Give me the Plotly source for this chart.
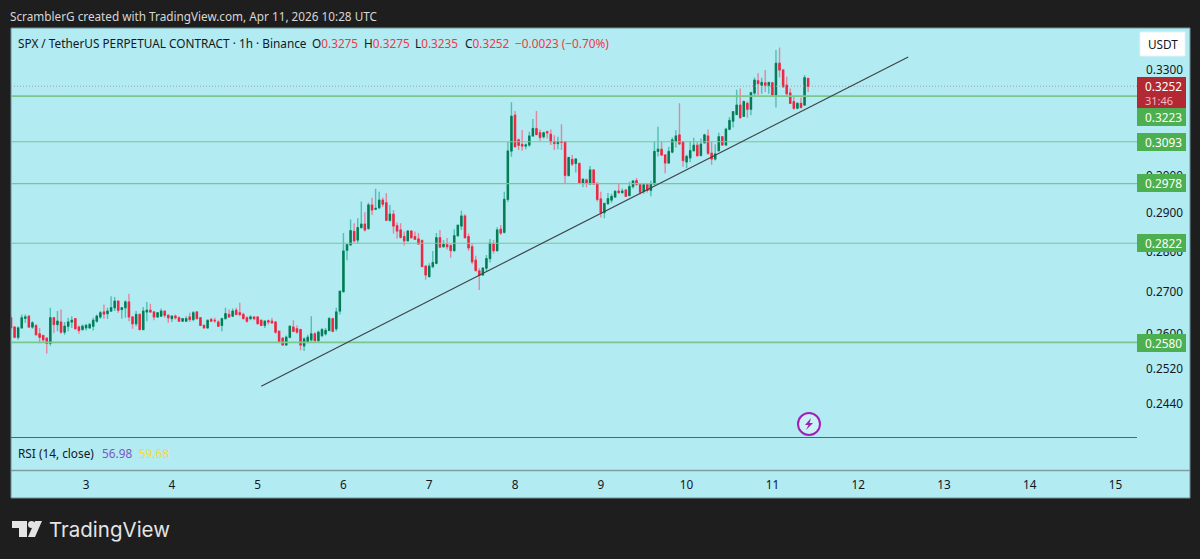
import pandas as pd
import plotly.graph_objects as go

W, H = 1200, 559

# hourly candles, last one is Apr 11 10:00
opens = [
    0.2638, 0.2616, 0.2592, 0.2614, 0.2637, 0.2642, 0.2616, 0.2620, 0.2600, 0.2596,
    0.2590, 0.2578, 0.2638, 0.2622, 0.2628, 0.2604, 0.2618, 0.2628, 0.2636, 0.2616,
    0.2610, 0.2614, 0.2614, 0.2618, 0.2630, 0.2640, 0.2652, 0.2648, 0.2654, 0.2662,
    0.2678, 0.2658, 0.2662, 0.2676, 0.2640, 0.2624, 0.2646, 0.2610, 0.2652, 0.2656,
    0.2652, 0.2640, 0.2642, 0.2654, 0.2644, 0.2636, 0.2642, 0.2638, 0.2630, 0.2630,
    0.2640, 0.2634, 0.2652, 0.2638, 0.2620, 0.2614, 0.2634, 0.2632, 0.2628, 0.2620,
    0.2636, 0.2646, 0.2642, 0.2656, 0.2650, 0.2646, 0.2638, 0.2636, 0.2640, 0.2640,
    0.2632, 0.2620, 0.2631, 0.2630, 0.2628, 0.2606, 0.2590, 0.2574, 0.2592, 0.2616,
    0.2612, 0.2610, 0.2572, 0.2582, 0.2586, 0.2600, 0.2584, 0.2596, 0.2600, 0.2608,
    0.2636, 0.2612, 0.2654, 0.2701, 0.2804, 0.2818, 0.2852, 0.2830, 0.2862, 0.2871,
    0.2860, 0.2921, 0.2910, 0.2914, 0.2934, 0.2927, 0.2881, 0.2897, 0.2867, 0.2856,
    0.2839, 0.2828, 0.2853, 0.2839, 0.2833, 0.2829, 0.2764, 0.2738, 0.2763, 0.2771,
    0.2836, 0.2813, 0.2818, 0.2816, 0.2803, 0.2841, 0.2866, 0.2892, 0.2839, 0.2813,
    0.2779, 0.2752, 0.2742, 0.2759, 0.2783, 0.2820, 0.2803, 0.2858, 0.2850, 0.2936,
    0.3067, 0.3168, 0.3098, 0.3085, 0.3081, 0.3084, 0.3109, 0.3130, 0.3118, 0.3107,
    0.3121, 0.3114, 0.3093, 0.3088, 0.3093, 0.3093, 0.3000, 0.3044, 0.3033, 0.3033,
    0.2979, 0.2988, 0.2977, 0.3015, 0.2979, 0.2937, 0.2901, 0.2925, 0.2934, 0.2942,
    0.2958, 0.2954, 0.2961, 0.2946, 0.2970, 0.2986, 0.2975, 0.2957, 0.2975, 0.2960,
    0.2977, 0.3066, 0.3072, 0.3056, 0.3034, 0.3064, 0.3095, 0.3112, 0.3093, 0.3037,
    0.3048, 0.3068, 0.3083, 0.3055, 0.3090, 0.3109, 0.3061, 0.3045, 0.3068, 0.3107,
    0.3084, 0.3128, 0.3151, 0.3170, 0.3197, 0.3165, 0.3202, 0.3185, 0.3232, 0.3268,
    0.3255, 0.3262, 0.3255, 0.3262, 0.3226, 0.3320, 0.3300, 0.3255, 0.3232, 0.3207,
    0.3188, 0.3202, 0.3197, 0.3275,
]
highs = [
    0.2646, 0.2618, 0.2618, 0.2646, 0.2646, 0.2644, 0.2630, 0.2622, 0.2614, 0.2598,
    0.2592, 0.2662, 0.2640, 0.2654, 0.2658, 0.2628, 0.2638, 0.2642, 0.2637, 0.2620,
    0.2622, 0.2624, 0.2626, 0.2638, 0.2646, 0.2654, 0.2670, 0.2662, 0.2690, 0.2688,
    0.2680, 0.2664, 0.2680, 0.2696, 0.2642, 0.2654, 0.2648, 0.2664, 0.2676, 0.2672,
    0.2654, 0.2652, 0.2660, 0.2656, 0.2646, 0.2644, 0.2646, 0.2642, 0.2637, 0.2642,
    0.2650, 0.2654, 0.2654, 0.2640, 0.2622, 0.2634, 0.2638, 0.2638, 0.2632, 0.2638,
    0.2662, 0.2658, 0.2660, 0.2662, 0.2674, 0.2650, 0.2642, 0.2644, 0.2642, 0.2642,
    0.2634, 0.2632, 0.2634, 0.2638, 0.2629, 0.2608, 0.2592, 0.2596, 0.2620, 0.2632,
    0.2620, 0.2612, 0.2592, 0.2598, 0.2642, 0.2604, 0.2608, 0.2614, 0.2614, 0.2640,
    0.2638, 0.2662, 0.2702, 0.2848, 0.2820, 0.2883, 0.2873, 0.2886, 0.2930, 0.2902,
    0.2927, 0.2940, 0.2964, 0.2956, 0.2941, 0.2952, 0.2921, 0.2908, 0.2875, 0.2873,
    0.2852, 0.2856, 0.2856, 0.2852, 0.2848, 0.2830, 0.2767, 0.2771, 0.2802, 0.2848,
    0.2856, 0.2830, 0.2835, 0.2819, 0.2858, 0.2869, 0.2906, 0.2897, 0.2847, 0.2822,
    0.2790, 0.2759, 0.2762, 0.2792, 0.2833, 0.2830, 0.2863, 0.2869, 0.2956, 0.3093,
    0.3205, 0.3180, 0.3102, 0.3126, 0.3088, 0.3121, 0.3157, 0.3180, 0.3127, 0.3121,
    0.3124, 0.3127, 0.3111, 0.3107, 0.3142, 0.3095, 0.3051, 0.3056, 0.3047, 0.3035,
    0.2992, 0.2992, 0.3026, 0.3017, 0.2981, 0.2956, 0.2927, 0.2953, 0.2951, 0.2961,
    0.2980, 0.2965, 0.2963, 0.2983, 0.2988, 0.2993, 0.2976, 0.2979, 0.2979, 0.2986,
    0.3093, 0.3135, 0.3093, 0.3059, 0.3079, 0.3105, 0.3125, 0.3202, 0.3095, 0.3057,
    0.3095, 0.3104, 0.3093, 0.3102, 0.3115, 0.3127, 0.3093, 0.3086, 0.3118, 0.3109,
    0.3132, 0.3163, 0.3180, 0.3242, 0.3245, 0.3210, 0.3207, 0.3236, 0.3278, 0.3290,
    0.3277, 0.3300, 0.3265, 0.3265, 0.3360, 0.3368, 0.3302, 0.3280, 0.3245, 0.3223,
    0.3205, 0.3219, 0.3285, 0.3275,
]
lows = [
    0.2606, 0.2590, 0.2586, 0.2612, 0.2626, 0.2614, 0.2612, 0.2596, 0.2578, 0.2582,
    0.2554, 0.2572, 0.2602, 0.2606, 0.2600, 0.2598, 0.2606, 0.2614, 0.2610, 0.2600,
    0.2608, 0.2608, 0.2612, 0.2608, 0.2626, 0.2636, 0.2636, 0.2636, 0.2652, 0.2654,
    0.2650, 0.2636, 0.2638, 0.2630, 0.2612, 0.2618, 0.2610, 0.2610, 0.2630, 0.2650,
    0.2632, 0.2638, 0.2640, 0.2638, 0.2626, 0.2628, 0.2634, 0.2628, 0.2628, 0.2628,
    0.2628, 0.2630, 0.2634, 0.2620, 0.2612, 0.2612, 0.2628, 0.2626, 0.2616, 0.2606,
    0.2634, 0.2638, 0.2640, 0.2644, 0.2642, 0.2634, 0.2626, 0.2632, 0.2632, 0.2622,
    0.2618, 0.2614, 0.2622, 0.2624, 0.2600, 0.2578, 0.2572, 0.2572, 0.2590, 0.2604,
    0.2600, 0.2562, 0.2560, 0.2578, 0.2582, 0.2582, 0.2582, 0.2592, 0.2596, 0.2606,
    0.2604, 0.2606, 0.2646, 0.2699, 0.2779, 0.2815, 0.2824, 0.2822, 0.2860, 0.2852,
    0.2856, 0.2895, 0.2910, 0.2910, 0.2916, 0.2880, 0.2877, 0.2847, 0.2834, 0.2834,
    0.2816, 0.2826, 0.2834, 0.2830, 0.2818, 0.2761, 0.2730, 0.2736, 0.2759, 0.2769,
    0.2809, 0.2812, 0.2806, 0.2785, 0.2800, 0.2841, 0.2856, 0.2834, 0.2803, 0.2769,
    0.2751, 0.2705, 0.2740, 0.2751, 0.2773, 0.2796, 0.2800, 0.2843, 0.2847, 0.2929,
    0.3051, 0.3077, 0.3070, 0.3068, 0.3072, 0.3079, 0.3107, 0.3111, 0.3096, 0.3102,
    0.3102, 0.3084, 0.3070, 0.3072, 0.3070, 0.2979, 0.2997, 0.3026, 0.3008, 0.2977,
    0.2968, 0.2968, 0.2975, 0.2975, 0.2930, 0.2888, 0.2886, 0.2921, 0.2927, 0.2940,
    0.2951, 0.2951, 0.2942, 0.2944, 0.2965, 0.2972, 0.2949, 0.2951, 0.2954, 0.2944,
    0.2977, 0.3052, 0.3053, 0.3006, 0.3032, 0.3061, 0.3077, 0.3084, 0.3024, 0.3020,
    0.3036, 0.3066, 0.3052, 0.3052, 0.3088, 0.3057, 0.3029, 0.3041, 0.3066, 0.3081,
    0.3081, 0.3125, 0.3133, 0.3168, 0.3158, 0.3163, 0.3161, 0.3168, 0.3223, 0.3226,
    0.3230, 0.3235, 0.3230, 0.3224, 0.3190, 0.3278, 0.3248, 0.3221, 0.3200, 0.3183,
    0.3185, 0.3188, 0.3195, 0.3235,
]
closes = [
    0.2614, 0.2592, 0.2614, 0.2638, 0.2640, 0.2616, 0.2626, 0.2598, 0.2592, 0.2586,
    0.2578, 0.2638, 0.2622, 0.2630, 0.2604, 0.2618, 0.2628, 0.2632, 0.2612, 0.2608,
    0.2618, 0.2620, 0.2622, 0.2632, 0.2642, 0.2650, 0.2647, 0.2654, 0.2662, 0.2678,
    0.2656, 0.2662, 0.2676, 0.2640, 0.2624, 0.2646, 0.2610, 0.2654, 0.2656, 0.2652,
    0.2640, 0.2650, 0.2654, 0.2644, 0.2638, 0.2642, 0.2638, 0.2630, 0.2636, 0.2636,
    0.2634, 0.2650, 0.2636, 0.2620, 0.2614, 0.2632, 0.2630, 0.2631, 0.2618, 0.2636,
    0.2648, 0.2640, 0.2654, 0.2646, 0.2646, 0.2636, 0.2630, 0.2640, 0.2636, 0.2624,
    0.2620, 0.2630, 0.2628, 0.2626, 0.2604, 0.2582, 0.2574, 0.2592, 0.2618, 0.2606,
    0.2604, 0.2574, 0.2588, 0.2592, 0.2600, 0.2584, 0.2604, 0.2610, 0.2608, 0.2636,
    0.2606, 0.2652, 0.2702, 0.2802, 0.2818, 0.2854, 0.2828, 0.2862, 0.2871, 0.2856,
    0.2921, 0.2908, 0.2912, 0.2934, 0.2923, 0.2881, 0.2897, 0.2866, 0.2853, 0.2837,
    0.2828, 0.2853, 0.2836, 0.2832, 0.2820, 0.2763, 0.2742, 0.2764, 0.2773, 0.2836,
    0.2812, 0.2819, 0.2813, 0.2803, 0.2841, 0.2868, 0.2892, 0.2836, 0.2810, 0.2775,
    0.2753, 0.2741, 0.2759, 0.2783, 0.2822, 0.2803, 0.2856, 0.2848, 0.2936, 0.3067,
    0.3165, 0.3079, 0.3083, 0.3081, 0.3084, 0.3109, 0.3130, 0.3113, 0.3105, 0.3118,
    0.3118, 0.3093, 0.3088, 0.3093, 0.3091, 0.3000, 0.3049, 0.3031, 0.3045, 0.2979,
    0.2990, 0.2979, 0.3015, 0.2977, 0.2936, 0.2901, 0.2925, 0.2938, 0.2944, 0.2957,
    0.2954, 0.2958, 0.2944, 0.2970, 0.2985, 0.2976, 0.2955, 0.2975, 0.2960, 0.2977,
    0.3066, 0.3072, 0.3056, 0.3034, 0.3066, 0.3098, 0.3109, 0.3087, 0.3041, 0.3052,
    0.3068, 0.3083, 0.3054, 0.3086, 0.3112, 0.3061, 0.3045, 0.3059, 0.3107, 0.3084,
    0.3128, 0.3153, 0.3178, 0.3197, 0.3161, 0.3207, 0.3185, 0.3233, 0.3270, 0.3260,
    0.3263, 0.3255, 0.3263, 0.3226, 0.3320, 0.3300, 0.3250, 0.3230, 0.3202, 0.3188,
    0.3202, 0.3190, 0.3277, 0.3252,
]

levels = [0.3223, 0.3093, 0.2978, 0.2822, 0.2580]
last_price = 0.3252
trend_x = ["2026-04-05 01:00", "2026-04-12 14:00"]
trend_y = [0.2480, 0.3339]
price_ticks = [0.33, 0.30, 0.29, 0.28, 0.27, 0.26, 0.252, 0.244]
day_ticks = [f"2026-04-{d:02d}" for d in range(3, 16)]
day_labels = [str(d) for d in range(3, 16)]

x_start = "2026-04-02 03:00"
x_end = "2026-04-15 06:00"
times = pd.date_range(end="2026-04-11 10:00", periods=len(opens), freq="h")

BG = "#1e1e1e"
PANEL = "#b2ebf2"
FONT = "Noto Sans"
TXT = 11.8


def xp(px):
    return px / W


def yp(py):
    return 1 - py / H


def poly(points, fill, line=None):
    path = "M" + " L".join(f"{xp(a):.5f},{yp(b):.5f}" for a, b in points) + " Z"
    return dict(type="path", xref="paper", yref="paper", path=path, fillcolor=fill,
                line=dict(width=0 if line is None else 1, color=line or fill))


def rect(x0, y0, x1, y1, fill, line=None, layer="below"):
    return dict(type="rect", xref="paper", yref="paper", x0=xp(x0), x1=xp(x1), y0=yp(y0), y1=yp(y1),
                fillcolor=fill, layer=layer, line=dict(width=0 if line is None else 1, color=line or fill))


def label(text, px, py, size=TXT, color="#131722", anchor="left", **kw):
    return dict(text=text, xref="paper", yref="paper", x=xp(px), y=yp(py), xanchor=anchor, yanchor="middle",
                showarrow=False, font=dict(size=size, color=color, family=kw.pop("family", FONT)), **kw)


fig = go.Figure()

for i, lv in enumerate(levels):
    # top and bottom levels are drawn heavier on the original
    lw = 1.7 if i in (0, len(levels) - 1) else 1.1
    fig.add_trace(go.Scatter(x=[x_start, x_end], y=[lv, lv], mode="lines", hoverinfo="skip",
                             line=dict(color="#7cc68e", width=lw)))
fig.add_trace(go.Scatter(x=[x_start, x_end], y=[last_price, last_price], mode="lines", hoverinfo="skip",
                         line=dict(color="#ab9ca5", width=1, dash="1px,2px")))

# wicks are paler than the bodies so this takes two candlestick traces
fig.add_trace(go.Candlestick(x=times, open=opens, high=highs, low=lows, close=closes, whiskerwidth=0,
                             increasing=dict(line=dict(color="#52bfb0", width=1.4), fillcolor="#52bfb0"),
                             decreasing=dict(line=dict(color="#e684a0", width=1.4), fillcolor="#e684a0")))
body_hi = [max(a, b) for a, b in zip(opens, closes)]
body_lo = [min(a, b) for a, b in zip(opens, closes)]
fig.add_trace(go.Candlestick(x=times, open=opens, high=body_hi, low=body_lo, close=closes, whiskerwidth=0,
                             increasing=dict(line=dict(color="#067a52", width=1), fillcolor="#067a52"),
                             decreasing=dict(line=dict(color="#e8283f", width=1), fillcolor="#e8283f")))

fig.add_trace(go.Scatter(x=trend_x, y=trend_y, mode="lines", hoverinfo="skip",
                         line=dict(color="#3c4448", width=1.2)))

shapes = [
    rect(11, 28, 1190, 498, PANEL, "#6f9298"),
    dict(type="line", xref="paper", yref="paper", x0=xp(11), x1=xp(1137), y0=yp(437.5), y1=yp(437.5),
         line=dict(color="#50666b", width=1)),
    dict(type="line", xref="paper", yref="paper", x0=xp(11), x1=xp(1190), y0=yp(470.5), y1=yp(470.5),
         line=dict(color="#7f9ea3", width=1.5)),
    # USDT button
    rect(1140, 32, 1185, 56, "#ffffff", "#e4f4f6", layer="above"),
    # last price tag
    rect(1137, 77, 1186, 109, "#b22833", layer="above"),
    # TradingView logo
    poly([(12, 521), (27, 521), (27, 537), (19, 537), (19, 528), (12, 528)], "#e4e4e4"),
    poly([(35, 521), (42, 521), (35, 537), (28, 537)], "#e4e4e4"),
    dict(type="circle", xref="paper", yref="paper", x0=xp(28), x1=xp(35), y0=yp(521), y1=yp(528),
         fillcolor="#e4e4e4", line=dict(width=0)),
    # bolt badge
    dict(type="circle", xref="paper", yref="paper", x0=xp(798), x1=xp(820), y0=yp(413), y1=yp(435),
         fillcolor="#c9f1f6", line=dict(color="#a020b8", width=2), layer="above"),
    poly([(811, 418), (805, 425), (808.5, 425), (806, 430), (813, 423), (809.5, 423)], "#a020b8"),
]
tag_y = [117, 142, 183, 243, 343]
for py in tag_y:
    shapes.append(rect(1137, py - 9, 1186, py + 9, "#4caf50", layer="above"))

annotations = [
    label("ScramblerG created with TradingView.com, Apr 11, 2026 10:28 UTC", 8, 16, 11.75, "#d6d6d6"),
    label("SPX / TetherUS PERPETUAL CONTRACT · 1h · Binance", 16, 43),
    label("O<span style='color:#f23645'>0.3275</span>", 310, 43),
    label("H<span style='color:#f23645'>0.3275</span>", 362, 43),
    label("L<span style='color:#f23645'>0.3235</span>", 413, 43),
    label("C<span style='color:#f23645'>0.3252</span>", 463, 43),
    label("−0.0023 (−0.70%)", 513, 43, color="#f23645"),
    label("RSI (14, close)", 16, 453),
    label("56.98", 100, 453, color="#7e57c2"),
    label("59.68", 137, 453, color="#fdd835"),
    label("USDT", 1162.5, 44, anchor="center", color="#131722"),
    label("0.3252", 1143, 86, color="#ffffff"),
    label("31:46", 1143, 101, 11, "#f0b8c0"),
    label("TradingView", 47, 529, 20.5, "#e4e4e4", family="Inter"),
]
for lv, py in zip(levels, tag_y):
    annotations.append(label(f"{lv:.4f}", 1143, py, color="#ffffff"))

fig.update_layout(
    width=W, height=H, margin=dict(l=0, r=0, t=0, b=0),
    paper_bgcolor=BG, plot_bgcolor="rgba(0,0,0,0)",
    showlegend=False, boxgap=0.5,
    font=dict(family=FONT, size=TXT, color="#131722"),
    shapes=shapes, annotations=annotations,
    xaxis=dict(domain=[xp(11), xp(1137)], type="date", range=[x_start, x_end],
               anchor="free", position=yp(470),
               rangeslider=dict(visible=False), showgrid=False, zeroline=False, showline=False,
               tickmode="array", tickvals=day_ticks, ticktext=day_labels, ticks="", ticklabelstandoff=6),
    yaxis=dict(domain=[yp(437), yp(28)], type="log", range=[-0.6255, -0.4650],
               side="right", showgrid=False, zeroline=False, showline=False,
               tickmode="array", tickvals=price_ticks, tickformat=".4f", ticks="", ticklabelstandoff=8),
)

fig.write_html("out.html", config={"displayModeBar": False},
               post_script="document.body.style.margin='0';document.body.style.background='#1e1e1e';")
